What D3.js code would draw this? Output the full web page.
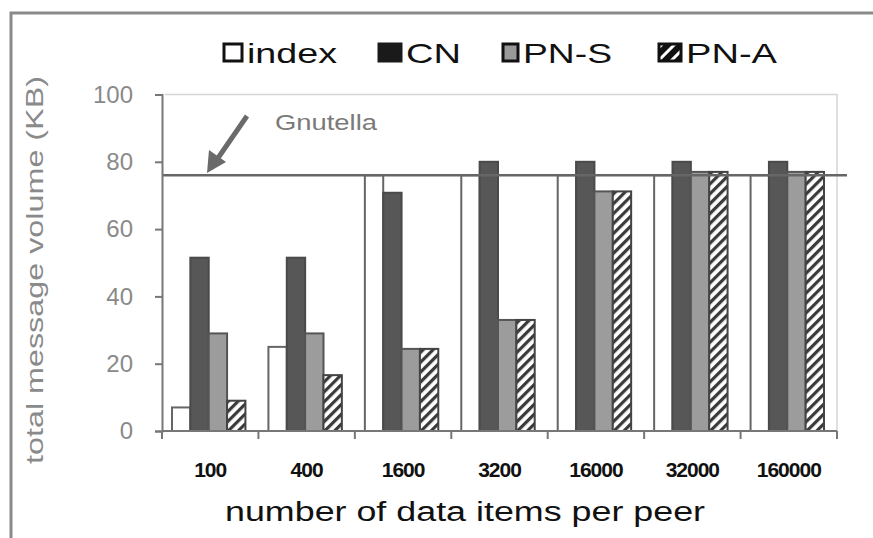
<!DOCTYPE html>
<html>
<head>
<meta charset="utf-8">
<script src="https://cdn.jsdelivr.net/npm/d3@7"></script>
<style>
  body { margin: 0; background: #fff; }
  svg { display: block; font-family: "Liberation Sans", Arial, sans-serif; }
</style>
</head>
<body>
<div id="chart"></div>
<script>
const categories = ['100', '400', '1600', '3200', '16000', '32000', '160000'];
const seriesNames = ['index', 'CN', 'PN-S', 'PN-A'];
// index goes off the scale for 1600+, the picture cuts it at the Gnutella line
const indexValues = [7, 25, 76, 76, 76, 76, 76];
const cnValues = [51.5, 51.5, 70.8, 80, 80, 80, 80];
const pnsValues = [29, 29, 24.4, 33, 71.2, 77, 77];
const pnaValues = [9, 16.6, 24.4, 33, 71.2, 77, 77];
const gnutella = 76;
const yTicks = [0, 20, 40, 60, 80, 100];

const width = 873, height = 538;
const margin = { left: 162, right: 36, top: 94.5, bottom: 107 };

const svg = d3.select('#chart').append('svg')
    .attr('width', width)
    .attr('height', height);

// hatch pattern for PN-A
const defs = svg.append('defs');
const hatch = defs.append('pattern')
    .attr('id', 'hatch')
    .attr('patternUnits', 'userSpaceOnUse')
    .attr('width', 7)
    .attr('height', 7)
    .attr('patternTransform', 'rotate(45)');
hatch.append('rect').attr('width', 7).attr('height', 7).attr('fill', '#fff');
hatch.append('rect').attr('width', 3.2).attr('height', 7).attr('fill', '#3a3a3a');

const legendHatch = defs.append('pattern')
    .attr('id', 'legendHatch')
    .attr('patternUnits', 'userSpaceOnUse')
    .attr('width', 9)
    .attr('height', 9)
    .attr('patternTransform', 'rotate(45)');
legendHatch.append('rect').attr('width', 9).attr('height', 9).attr('fill', '#111');
legendHatch.append('rect').attr('x', 3).attr('width', 3).attr('height', 9).attr('fill', '#fff');

// outer frame
svg.append('path')
    .attr('d', `M11,${height} L11,13 L${width},13`)
    .attr('fill', 'none')
    .attr('stroke', '#8a8a8a')
    .attr('stroke-width', 3);

const x0 = d3.scaleBand()
    .domain(categories)
    .range([margin.left, width - margin.right])
    .padding(0);

const x1 = d3.scaleBand()
    .domain(seriesNames)
    .range([10, x0.bandwidth() - 13])
    .padding(0);

const y = d3.scaleLinear()
    .domain([0, 100])
    .range([height - margin.bottom, margin.top]);

// plot area outline (light)
svg.append('path')
    .attr('d', `M${margin.left + 3},${y(100)} L${width - margin.right},${y(100)} L${width - margin.right},${y(0)}`)
    .attr('fill', 'none')
    .attr('stroke', '#d6d6d6')
    .attr('stroke-width', 1.5);

const styles = {
    'index': { fill: '#fff', stroke: '#666' },
    'CN': { fill: '#575757', stroke: '#4a4a4a' },
    'PN-S': { fill: '#9c9c9c', stroke: '#555' },
    'PN-A': { fill: 'url(#hatch)', stroke: '#444' }
};

const table = categories.map((c, i) => ({
    category: c,
    values: [
        { key: 'index', value: indexValues[i] },
        { key: 'CN', value: cnValues[i] },
        { key: 'PN-S', value: pnsValues[i] },
        { key: 'PN-A', value: pnaValues[i] }
    ]
}));

const groups = svg.append('g').selectAll('g.group')
    .data(table).enter()
    .append('g')
    .attr('class', 'group')
    .attr('transform', d => `translate(${x0(d.category)},0)`);

groups.selectAll('rect')
    .data(d => d.values).enter()
    .append('rect')
    .attr('x', d => x1(d.key))
    .attr('y', d => y(d.value))
    .attr('width', x1.bandwidth())
    .attr('height', d => y(0) - y(d.value))
    .attr('fill', d => styles[d.key].fill)
    .attr('stroke', d => styles[d.key].stroke)
    .attr('stroke-width', 2);

// Gnutella line
svg.append('line')
    .attr('x1', margin.left)
    .attr('x2', width - margin.right + 10)
    .attr('y1', y(gnutella))
    .attr('y2', y(gnutella))
    .attr('stroke', '#666')
    .attr('stroke-width', 2.5);

// arrow and label
svg.append('line')
    .attr('x1', 247)
    .attr('y1', 116)
    .attr('x2', 218)
    .attr('y2', 158)
    .attr('stroke', '#6a6a6a')
    .attr('stroke-width', 5);
svg.append('polygon')
    .attr('points', '207,173 209,150 226,162')
    .attr('fill', '#6a6a6a');
svg.append('text')
    .attr('x', 275)
    .attr('y', 130)
    .attr('font-size', 22)
    .attr('fill', '#7a7a7a')
    .attr('textLength', 102)
    .attr('lengthAdjust', 'spacingAndGlyphs')
    .text('Gnutella');

// y axis
const yAxis = svg.append('g')
    .attr('transform', `translate(${margin.left},0)`)
    .call(d3.axisLeft(y).tickValues(yTicks).tickSize(7).tickPadding(22));
yAxis.selectAll('path, line').attr('stroke', '#777').attr('stroke-width', 2);
yAxis.selectAll('text')
    .attr('font-size', 24)
    .attr('fill', '#8a8a8a')
    .attr('font-family', '"Liberation Sans", Arial, sans-serif');

// x axis: ticks on band edges
const xAxis = svg.append('g')
    .attr('transform', `translate(0,${y(0)})`);
xAxis.append('line')
    .attr('x1', margin.left)
    .attr('x2', width - margin.right)
    .attr('stroke', '#777')
    .attr('stroke-width', 2);
xAxis.selectAll('line.tick')
    .data(categories.concat(['end'])).enter()
    .append('line')
    .attr('class', 'tick')
    .attr('x1', (d, i) => margin.left + i * x0.step())
    .attr('x2', (d, i) => margin.left + i * x0.step())
    .attr('y1', 0)
    .attr('y2', 8)
    .attr('stroke', '#777')
    .attr('stroke-width', 2);
xAxis.selectAll('text')
    .data(categories).enter()
    .append('text')
    .attr('x', d => x0(d) + x0.bandwidth() / 2)
    .attr('y', 46)
    .attr('text-anchor', 'middle')
    .attr('font-size', 21)
    .attr('font-weight', 'bold')
    .attr('fill', '#111')
    .attr('letter-spacing', -1)
    .text(d => d);

// axis titles
svg.append('text')
    .attr('x', 465)
    .attr('y', 521)
    .attr('text-anchor', 'middle')
    .attr('font-size', 27)
    .attr('fill', '#111')
    .attr('textLength', 480)
    .attr('lengthAdjust', 'spacingAndGlyphs')
    .text('number of data items per peer');

svg.append('text')
    .attr('transform', 'translate(43,270) rotate(-90)')
    .attr('text-anchor', 'middle')
    .attr('font-size', 24)
    .attr('fill', '#8a8a8a')
    .attr('textLength', 388)
    .attr('lengthAdjust', 'spacingAndGlyphs')
    .text('total message volume (KB)');

// legend
const legendItems = [
    { key: 'index', x: 224, w: 18, textW: 90, fill: '#fff', stroke: '#111' },
    { key: 'CN', x: 379, w: 22, textW: 55, fill: '#1a1a1a', stroke: '#1a1a1a' },
    { key: 'PN-S', x: 503, w: 15, textW: 89, fill: '#999', stroke: '#111' },
    { key: 'PN-A', x: 659, w: 22, textW: 91, fill: 'url(#legendHatch)', stroke: '#111' }
];
const legend = svg.append('g').attr('class', 'legend');
legend.selectAll('rect')
    .data(legendItems).enter()
    .append('rect')
    .attr('x', d => d.x)
    .attr('y', 44)
    .attr('width', d => d.w)
    .attr('height', 17)
    .attr('fill', d => d.fill)
    .attr('stroke', d => d.stroke)
    .attr('stroke-width', 3);
legend.selectAll('text')
    .data(legendItems).enter()
    .append('text')
    .attr('x', d => d.x + d.w + 5)
    .attr('y', 63)
    .attr('font-size', 28)
    .attr('fill', '#111')
    .attr('textLength', d => d.textW)
    .attr('lengthAdjust', 'spacingAndGlyphs')
    .text(d => d.key);
</script>
</body>
</html>
